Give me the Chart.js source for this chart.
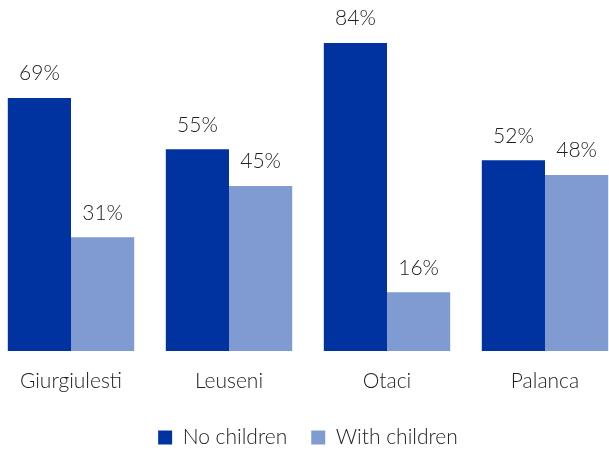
<!DOCTYPE html>
<html>
<head>
<meta charset="utf-8">
<script src="https://cdn.jsdelivr.net/npm/chart.js@4/dist/chart.umd.min.js"></script>
<style>
  html, body { margin: 0; padding: 0; background: #fff; overflow: hidden; }
  #wrap { position: relative; width: 609px; height: 453px; overflow: hidden; }
  /* plot spans slightly past the window edges, as in the original */
  #box { position: absolute; left: -8px; top: 0; width: 632px; height: 458px; }
</style>
</head>
<body>
<div id="wrap"><div id="box"><canvas id="c"></canvas></div></div>
<script>
const categories   = ['Giurgiulesti', 'Leuseni', 'Otaci', 'Palanca'];
const noChildren   = [69, 55, 84, 52];
const withChildren = [31, 45, 16, 48];

const FONT = 'Lato, "Open Sans", sans-serif';
const TEXT = '#222';

// value labels above each bar
const barLabels = {
  id: 'barLabels',
  afterDatasetsDraw(chart) {
    const { ctx } = chart;
    ctx.save();
    ctx.font = `300 21px ${FONT}`;
    ctx.fillStyle = TEXT;
    ctx.textAlign = 'center';
    ctx.textBaseline = 'bottom';
    chart.data.datasets.forEach((ds, di) => {
      chart.getDatasetMeta(di).data.forEach((bar, i) => {
        ctx.fillText(`${ds.data[i]}%`, bar.x, bar.y - 14);
      });
    });
    ctx.restore();
  },
};

new Chart(document.getElementById('c'), {
  type: 'bar',
  data: {
    labels: categories,
    datasets: [
      { label: 'No children',   data: noChildren,   backgroundColor: '#0033A0' },
      { label: 'With children', data: withChildren, backgroundColor: '#7F9BD2' },
    ],
  },
  options: {
    responsive: true,
    maintainAspectRatio: false,
    animation: false,
    layout: { padding: { top: 43, bottom: 0 } },
    datasets: { bar: { categoryPercentage: 0.8, barPercentage: 1.0 } },
    plugins: {
      legend: {
        position: 'bottom',
        labels: {
          boxWidth: 14,
          boxHeight: 14,
          padding: 24,
          color: TEXT,
          font: { family: FONT, size: 21, weight: '300' },
        },
      },
      tooltip: { enabled: false },
    },
    scales: {
      x: {
        grid: { display: false, drawTicks: false },
        border: { display: false },
        ticks: { color: TEXT, padding: 18, font: { family: FONT, size: 21, weight: '300' } },
        afterFit: (scale) => { scale.height = 52; },
      },
      y: {
        display: false,
        min: 0,
        max: 84,
      },
    },
  },
  plugins: [barLabels],
});
</script>
</body>
</html>
